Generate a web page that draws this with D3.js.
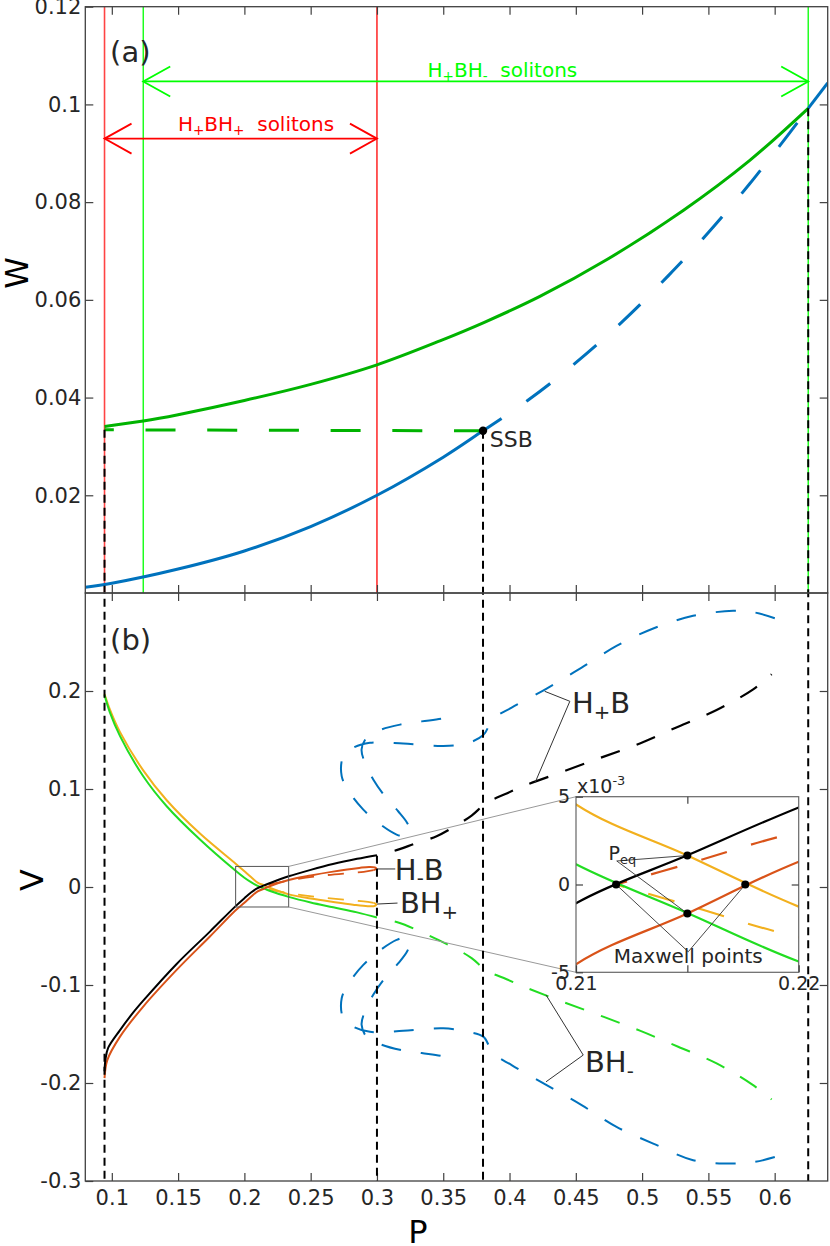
<!DOCTYPE html>
<html>
<head>
<meta charset="utf-8">
<script src="https://cdn.jsdelivr.net/npm/d3@7"></script>
<style>
body { margin: 0; background: #fff; }
svg { font-family: "DejaVu Sans", sans-serif; }
</style>
</head>
<body>
<script>
// Ticks
var pTicks = [0.1, 0.15, 0.2, 0.25, 0.3, 0.35, 0.4, 0.45, 0.5, 0.55, 0.6];
var wTicks = [0.02, 0.04, 0.06, 0.08, 0.1, 0.12];
var vTicks = [-0.3, -0.2, -0.1, 0, 0.1, 0.2];
var insetPTicks = [0.21, 0.215, 0.22];
var insetVTicks = [-0.005, 0, 0.005];

// Special pump values
var pStart = 0.0945;      // left edge of all soliton families
var pGreenLeft = 0.1237;  // H+BH- solitons begin
var pRedRight = 0.3;      // H+BH+ solitons end
var pSSB = 0.38;
var wSSB = 0.0332;
var pEnd = 0.6253;
var wEnd = 0.0992;

// (a) energy W(P)
var hStableP = [0.08, 0.1, 0.15, 0.2, 0.25, 0.3, 0.35, 0.38, 0.394];
var hStableW = [0.0012, 0.002, 0.0049, 0.0086, 0.0136, 0.020, 0.0278, 0.0332, 0.0357];
var hUnstableP = [0.394, 0.4136, 0.4317, 0.4498, 0.4674, 0.4845, 0.5013, 0.5189, 0.534, 0.55, 0.565, 0.581, 0.595, 0.61, 0.6253];
var hUnstableW = [0.0357, 0.0394, 0.0431, 0.0471, 0.0512, 0.0554, 0.0598, 0.0647, 0.069, 0.0738, 0.0785, 0.0837, 0.0885, 0.0937, 0.0992];
var hUpperP = [0.6253, 0.64];
var hUpperW = [0.0992, 0.1044];
var asymP = [0.0945, 0.1237, 0.15, 0.2, 0.25, 0.3, 0.3475, 0.381, 0.4229, 0.4732, 0.531, 0.581, 0.6253];
var asymW = [0.0341, 0.0352, 0.0365, 0.0394, 0.0427, 0.0467, 0.0516, 0.0554, 0.0607, 0.0682, 0.0783, 0.0885, 0.0992];
var asymUnstP = [0.0945, 0.38];
var asymUnstW = [0.0334, 0.0332];

// (b) V(P): H+B (black)
var hpbP = [0.0945, 0.0952, 0.0973, 0.1062, 0.1162, 0.1237, 0.1489, 0.174, 0.1934, 0.2, 0.205, 0.21, 0.215, 0.22, 0.2334, 0.25, 0.2668, 0.285, 0.3];
var hpbV = [-0.188, -0.176, -0.164, -0.146, -0.128, -0.116, -0.0785, -0.0455, -0.0195, -0.0114, -0.0056, -0.00107, 0.00166, 0.00439, 0.0109, 0.0175, 0.0235, 0.0288, 0.0325];
var hpbDashP = [0.3, 0.316, 0.3286, 0.345, 0.3588, 0.3714, 0.3827, 0.3978, 0.4103, 0.4418, 0.4706, 0.4983, 0.5272, 0.5562, 0.5838, 0.5977];
var hpbDashV = [0.0325, 0.0381, 0.0443, 0.0518, 0.062, 0.0729, 0.0859, 0.0954, 0.1029, 0.1185, 0.1328, 0.1465, 0.1636, 0.1806, 0.2017, 0.2171];
// H-B (red)
var hmbP = [0.0945, 0.0966, 0.1062, 0.1237, 0.1489, 0.174, 0.1934, 0.2, 0.205, 0.21, 0.215, 0.22, 0.2334, 0.25, 0.2668, 0.2866, 0.294, 0.2985, 0.2995, 0.2975];
var hmbV = [-0.195, -0.1766, -0.1527, -0.122, -0.0846, -0.0505, -0.0238, -0.016, -0.0099, -0.00454, -0.00165, 0.0013, 0.0072, 0.0118, 0.0157, 0.0195, 0.0205, 0.0200, 0.0186, 0.0172];
var hmbDashP = [0.2975, 0.29, 0.28, 0.26, 0.24, 0.22, 0.215, 0.2118];
var hmbDashV = [0.0172, 0.0155, 0.0143, 0.0118, 0.0082, 0.003, 0.00117, 0];
// BH+ (orange)
var bhpP = [0.0945, 0.0986, 0.1062, 0.1237, 0.1414, 0.1665, 0.1934, 0.2, 0.205, 0.21, 0.215, 0.22, 0.2334, 0.25, 0.267, 0.282, 0.293, 0.2985, 0.2995, 0.2975];
var bhpV = [0.197, 0.181, 0.158, 0.119, 0.0885, 0.0545, 0.0238, 0.016, 0.0101, 0.00456, 0.00165, -0.00126, -0.0075, -0.0118, -0.0153, -0.0181, -0.0196, -0.0192, -0.0177, -0.0162];
var bhpDashP = [0.2975, 0.29, 0.28, 0.26, 0.24, 0.22, 0.215, 0.2118];
var bhpDashV = [-0.0162, -0.0147, -0.0134, -0.011, -0.0077, -0.003, -0.00117, 0];
// BH- (green)
var bhmP = [0.0945, 0.0986, 0.1062, 0.1237, 0.1414, 0.1665, 0.1934, 0.2, 0.205, 0.21, 0.215, 0.22, 0.2334, 0.25, 0.267, 0.285, 0.3];
var bhmV = [0.196, 0.178, 0.154, 0.113, 0.0824, 0.0484, 0.0165, 0.0094, 0.0049, 0.00115, -0.00162, -0.00439, -0.0101, -0.0158, -0.0207, -0.0259, -0.0312];
var bhmDashP = [0.3, 0.316, 0.33, 0.345, 0.3588, 0.3714, 0.3827, 0.3978, 0.4116, 0.4418, 0.4706, 0.4983, 0.5272, 0.5562, 0.5826, 0.5977];
var bhmDashV = [-0.0312, -0.0362, -0.0437, -0.0532, -0.0624, -0.0726, -0.0853, -0.0941, -0.1022, -0.118, -0.1323, -0.1466, -0.163, -0.18, -0.2011, -0.2168];
// asymmetric loops (blue)
var hpbLoopP = [0.6001, 0.585, 0.5687, 0.5385, 0.5084, 0.4807, 0.4544, 0.428, 0.4016, 0.3877, 0.3802, 0.3676, 0.35, 0.3198, 0.2947, 0.2821, 0.2746, 0.2734, 0.2796, 0.2897, 0.301, 0.3148, 0.3211, 0.3249, 0.3228, 0.316, 0.306, 0.2972, 0.2909, 0.2884, 0.2922, 0.3035, 0.3186, 0.3337, 0.3488, 0.3601];
var hpbLoopV = [0.2743, 0.2801, 0.2818, 0.2767, 0.2638, 0.246, 0.2239, 0.2025, 0.183, 0.1718, 0.155, 0.1465, 0.1438, 0.1465, 0.1472, 0.1421, 0.1335, 0.1131, 0.0961, 0.079, 0.0654, 0.0535, 0.0517, 0.0569, 0.0654, 0.0773, 0.0926, 0.1097, 0.1268, 0.1404, 0.1523, 0.1608, 0.166, 0.169, 0.1718, 0.1752];
var bhmLoopP = [0.6001, 0.585, 0.5687, 0.5385, 0.5084, 0.4807, 0.4544, 0.428, 0.4016, 0.3877, 0.3802, 0.3676, 0.35, 0.3198, 0.2947, 0.2821, 0.2746, 0.2734, 0.2796, 0.2897, 0.301, 0.3148, 0.3211, 0.3249, 0.3228, 0.316, 0.306, 0.2972, 0.2909, 0.2884, 0.2922, 0.3035, 0.3186, 0.3337, 0.3488, 0.3601];
var bhmLoopV = [-0.2755, -0.2805, -0.2822, -0.2788, -0.2618, -0.2448, -0.2226, -0.2021, -0.1817, -0.1697, -0.1527, -0.1476, -0.1442, -0.1468, -0.1478, -0.1425, -0.134, -0.1135, -0.0965, -0.0795, -0.066, -0.054, -0.052, -0.057, -0.0655, -0.078, -0.093, -0.11, -0.127, -0.1405, -0.153, -0.161, -0.1665, -0.1695, -0.1725, -0.1766];

// Inset marked points
var peqP = [0.215, 0.215];
var peqV = [0.00165, -0.00165];
var maxwellP = [0.2118, 0.2176];
var maxwellV = [0, 0];

var BLUE = "#0072BD", GREEN_A = "#00b300", LIME = "#00ff00", RED = "#ff0000",
    ORANGE = "#F2B01E", BRICK = "#D95319", BGREEN = "#22dd22", AX = "#262626";

var svg = d3.select("body").append("svg")
    .attr("width", 830)
    .attr("height", 1246);

var x = d3.scaleLinear().domain([0.08, 0.64]).range([85.3, 827.7]);
var yTop = d3.scaleLinear().domain([0, 0.12]).range([593, 6.7]);
var yBot = d3.scaleLinear().domain([-0.3, 0.3]).range([1181, 593]);
var ix = d3.scaleLinear().domain([0.21, 0.22]).range([576, 798.7]);
var iy = d3.scaleLinear().domain([-0.005, 0.005]).range([972.3, 796.7]);

var defs = svg.append("defs");
function clip(id, sx, sy) {
    defs.append("clipPath").attr("id", id).append("rect")
        .attr("x", sx.range()[0]).attr("y", sy.range()[1])
        .attr("width", sx.range()[1] - sx.range()[0])
        .attr("height", sy.range()[0] - sy.range()[1]);
}
clip("clipTop", x, yTop);
clip("clipBot", x, yBot);
clip("clipInset", ix, iy);

function curve(g, xs, ys, sx, sy, color, width, dash, offset) {
    var line = d3.line()
        .x(function(d) { return sx(d[0]); })
        .y(function(d) { return sy(d[1]); })
        .curve(d3.curveCatmullRom.alpha(0.5));
    return g.append("path")
        .datum(d3.zip(xs, ys))
        .attr("d", line)
        .attr("fill", "none")
        .attr("stroke", color)
        .attr("stroke-width", width)
        .attr("stroke-linejoin", "round")
        .attr("stroke-dasharray", dash || null)
        .attr("stroke-dashoffset", offset || null);
}

function seg(g, x1, y1, x2, y2, color, width, dash) {
    return g.append("line")
        .attr("x1", x1).attr("y1", y1).attr("x2", x2).attr("y2", y2)
        .attr("stroke", color).attr("stroke-width", width)
        .attr("stroke-dasharray", dash || null);
}

// text with sub / superscripts
function richText(g, px, py, parts, size, color, anchor) {
    var t = g.append("text")
        .attr("x", px).attr("y", py)
        .attr("font-size", size)
        .attr("fill", color)
        .attr("text-anchor", anchor || "start")
        .style("white-space", "pre");
    var shift = 0;
    parts.forEach(function(p) {
        var off = p[1] === "sub" ? size * 0.2 : (p[1] === "sup" ? -size * 0.42 : 0);
        t.append("tspan")
            .attr("dy", off - shift)
            .attr("font-size", p[1] ? size * 0.68 : size)
            .text(p[0]);
        shift = off;
    });
    return t;
}

function fmt(d) { return String(d); }

function styleAxis(g, size) {
    g.attr("font-size", size).attr("font-family", null).attr("color", AX);
    g.select(".domain").remove();
    g.selectAll(".tick line").attr("stroke", "#404040").attr("stroke-width", 1.2);
}

// ---------- panel (a) ----------
var panelA = svg.append("g");
var plotA = panelA.append("g").attr("clip-path", "url(#clipTop)");

// soliton existence bounds
seg(plotA, x(pStart), yTop(0), x(pStart), yTop(0.12), "#ff4444", 1.6);
seg(plotA, x(pRedRight), yTop(0), x(pRedRight), yTop(0.12), RED, 1.3);
seg(plotA, x(pGreenLeft), yTop(0), x(pGreenLeft), yTop(0.12), LIME, 1.3);
seg(plotA, x(pEnd), yTop(0), x(pEnd), yTop(0.12), LIME, 1.3);

curve(plotA, hStableP, hStableW, x, yTop, BLUE, 3);
curve(plotA, hUnstableP, hUnstableW, x, yTop, BLUE, 3, "30,30", 30);
curve(plotA, hUpperP, hUpperW, x, yTop, BLUE, 3);
curve(plotA, asymUnstP, asymUnstW, x, yTop, GREEN_A, 3, "30,31.7", 20.7);
curve(plotA, asymP, asymW, x, yTop, GREEN_A, 3);

// arrows
function arrow(g, p0, p1, w, color) {
    var y0 = yTop(w), xa = x(p0), xb = x(p1);
    seg(g, xa, y0, xb, y0, color, 1.8);
    g.append("path").attr("d", "M" + (xa + 27) + "," + (y0 - 15) + "L" + xa + "," + y0 + "L" + (xa + 27) + "," + (y0 + 15))
        .attr("fill", "none").attr("stroke", color).attr("stroke-width", 1.8);
    g.append("path").attr("d", "M" + (xb - 27) + "," + (y0 - 15) + "L" + xb + "," + y0 + "L" + (xb - 27) + "," + (y0 + 15))
        .attr("fill", "none").attr("stroke", color).attr("stroke-width", 1.8);
}
arrow(panelA, pStart, pRedRight, 0.093, RED);
arrow(panelA, pGreenLeft, pEnd, 0.1047, LIME);

richText(panelA, x(0.2088), yTop(0.0946), [["H"], ["+", "sub"], ["BH"], ["+", "sub"], ["  solitons"]], 20, RED, "middle");
richText(panelA, x(0.3946), yTop(0.1056), [["H"], ["+", "sub"], ["BH"], ["-", "sub"], ["  solitons"]], 20, LIME, "middle");
richText(panelA, x(0.0987), yTop(0.1087), [["(a)"]], 29, AX);

// axes of (a)
panelA.append("g").attr("transform", "translate(" + x.range()[0] + ",0)")
    .call(d3.axisLeft(yTop).tickValues(wTicks).tickSize(-8).tickPadding(4).tickFormat(fmt))
    .call(styleAxis, 21);
panelA.append("g").attr("transform", "translate(" + x.range()[1] + ",0)")
    .call(d3.axisRight(yTop).tickValues(wTicks.slice(0, 5)).tickSize(-8).tickFormat(""))
    .call(styleAxis, 21);
panelA.append("g").attr("transform", "translate(0," + yTop.range()[1] + ")")
    .call(d3.axisTop(x).tickValues(pTicks).tickSize(-8).tickFormat(""))
    .call(styleAxis, 21);
panelA.append("g").attr("transform", "translate(0," + yTop.range()[0] + ")")
    .call(d3.axisBottom(x).tickValues(pTicks).tickSize(-8).tickFormat(""))
    .call(styleAxis, 21);

// ---------- panel (b) ----------
var panelB = svg.append("g");
var plotB = panelB.append("g").attr("clip-path", "url(#clipBot)");

curve(plotB, hpbLoopP, hpbLoopV, x, yBot, BLUE, 2, "20,20");
curve(plotB, bhmLoopP, bhmLoopV, x, yBot, BLUE, 2, "20,20");
curve(plotB, hpbDashP, hpbDashV, x, yBot, "#000", 2.2, "20,18", 20);
curve(plotB, bhmDashP, bhmDashV, x, yBot, BGREEN, 2, "20,18", 20);
curve(plotB, hmbDashP, hmbDashV, x, yBot, BRICK, 1.8, "16,14");
curve(plotB, bhpDashP, bhpDashV, x, yBot, ORANGE, 1.8, "16,14");
curve(plotB, bhpP, bhpV, x, yBot, ORANGE, 2);
curve(plotB, bhmP, bhmV, x, yBot, BGREEN, 2);
curve(plotB, hmbP, hmbV, x, yBot, BRICK, 2);
curve(plotB, hpbP, hpbV, x, yBot, "#000", 2);

// black dashed guides through both panels
seg(svg, x(pStart), yTop(asymUnstW[0]), x(pStart), yBot(-0.3), "#000", 2, "8,5");
seg(svg, x(pSSB), yTop(wSSB), x(pSSB), yBot(-0.3), "#000", 2, "8,5");
seg(svg, x(pEnd), yTop(wEnd), x(pEnd), yBot(-0.3), "#000", 2, "8,5");
seg(svg, x(pRedRight), yBot(0.032), x(pRedRight), yBot(-0.3), "#000", 2, "8,5");

// SSB point
svg.append("circle").attr("cx", x(pSSB)).attr("cy", yTop(wSSB)).attr("r", 4.2).attr("fill", "#000");
richText(svg, x(0.3851), yTop(0.0299), [["SSB"]], 22, AX);

// zoom rectangle and connectors
var r0 = [0.1934, 0.2334], rv = [-0.0204, 0.021];
panelB.append("rect")
    .attr("x", x(r0[0])).attr("y", yBot(rv[1]))
    .attr("width", x(r0[1]) - x(r0[0])).attr("height", yBot(rv[0]) - yBot(rv[1]))
    .attr("fill", "none").attr("stroke", "#555").attr("stroke-width", 1);
seg(panelB, x(r0[1]), yBot(rv[1]), ix.range()[0], iy.range()[1], "#999", 1);
seg(panelB, x(r0[1]), yBot(rv[0]), ix.range()[0], iy.range()[0], "#999", 1);

// branch labels with pointer lines
var lbl = panelB.append("g");
seg(lbl, x(0.4455), yBot(0.1895), x(0.4265), yBot(0.1997), "#333", 1);
seg(lbl, x(0.4455), yBot(0.1895), x(0.4192), yBot(0.1063), "#333", 1);
richText(lbl, x(0.4471), yBot(0.1772), [["H"], ["+", "sub"], ["B"]], 29, AX);
seg(lbl, x(0.3), yBot(0.0184), x(0.3138), yBot(0.0184), "#333", 1);
richText(lbl, x(0.3135), yBot(0.0075), [["H"], ["-", "sub"], ["B"]], 29, AX);
seg(lbl, x(0.3), yBot(-0.0174), x(0.3155), yBot(-0.0164), "#333", 1);
richText(lbl, x(0.3173), yBot(-0.0266), [["BH"], ["+", "sub"]], 29, AX);
seg(lbl, x(0.4556), yBot(-0.1715), x(0.4275), yBot(-0.1101), "#333", 1);
seg(lbl, x(0.4556), yBot(-0.1715), x(0.4275), yBot(-0.1988), "#333", 1);
richText(lbl, x(0.4569), yBot(-0.1885), [["BH"], ["-", "sub"]], 29, AX);
richText(panelB, x(0.0987), yBot(0.2416), [["(b)"]], 29, AX);

// axes of (b)
panelB.append("g").attr("transform", "translate(" + x.range()[0] + ",0)")
    .call(d3.axisLeft(yBot).tickValues(vTicks).tickSize(-8).tickPadding(4).tickFormat(fmt))
    .call(styleAxis, 21);
panelB.append("g").attr("transform", "translate(" + x.range()[1] + ",0)")
    .call(d3.axisRight(yBot).tickValues(vTicks.slice(1)).tickSize(-8).tickFormat(""))
    .call(styleAxis, 21);
panelB.append("g").attr("transform", "translate(0," + yBot.range()[1] + ")")
    .call(d3.axisTop(x).tickValues(pTicks).tickSize(-8).tickFormat(""))
    .call(styleAxis, 21);
panelB.append("g").attr("transform", "translate(0," + yBot.range()[0] + ")")
    .call(d3.axisBottom(x).tickValues(pTicks).tickSize(-8).tickPadding(9).tickFormat(fmt))
    .call(styleAxis, 21);

// ---------- inset ----------
var inset = svg.append("g");
inset.append("rect")
    .attr("x", ix.range()[0]).attr("y", iy.range()[1])
    .attr("width", ix.range()[1] - ix.range()[0]).attr("height", iy.range()[0] - iy.range()[1])
    .attr("fill", "#fff");
var insetPlot = inset.append("g").attr("clip-path", "url(#clipInset)");
curve(insetPlot, hmbDashP, hmbDashV, ix, iy, BRICK, 2.2, "27,25");
curve(insetPlot, bhpDashP, bhpDashV, ix, iy, ORANGE, 2.2, "27,25");
curve(insetPlot, bhpP, bhpV, ix, iy, ORANGE, 2.2);
curve(insetPlot, hmbP, hmbV, ix, iy, BRICK, 2.2);
curve(insetPlot, bhmP, bhmV, ix, iy, BGREEN, 2.2);
curve(insetPlot, hpbP, hpbV, ix, iy, "#000", 2.2);

// pointer lines for P_eq and Maxwell points
var peqAnchor = [0.21183, 0.00134], mxAnchor = [0.21504, -0.00383];
peqP.forEach(function(p, i) {
    seg(inset, ix(peqAnchor[0]), iy(peqAnchor[1]), ix(p), iy(peqV[i]), "#333", 0.9);
});
maxwellP.forEach(function(p, i) {
    seg(inset, ix(mxAnchor[0]), iy(mxAnchor[1]), ix(p), iy(maxwellV[i]), "#333", 0.9);
});
inset.selectAll("circle.pt")
    .data(d3.zip(peqP.concat(maxwellP), peqV.concat(maxwellV)))
    .enter().append("circle")
    .attr("class", "pt")
    .attr("cx", function(d) { return ix(d[0]); })
    .attr("cy", function(d) { return iy(d[1]); })
    .attr("r", 4)
    .attr("fill", "#000");

inset.append("rect")
    .attr("x", ix.range()[0]).attr("y", iy.range()[1])
    .attr("width", ix.range()[1] - ix.range()[0]).attr("height", iy.range()[0] - iy.range()[1])
    .attr("fill", "none").attr("stroke", "#666").attr("stroke-width", 1.2);

inset.append("g").attr("transform", "translate(" + ix.range()[0] + ",0)")
    .call(d3.axisLeft(iy).tickValues(insetVTicks).tickSize(-7).tickPadding(6)
        .tickFormat(function(d) { return String(Math.round(d * 1000)); }))
    .call(styleAxis, 19);
inset.append("g").attr("transform", "translate(" + ix.range()[1] + ",0)")
    .call(d3.axisRight(iy).tickValues([0]).tickSize(-7).tickFormat(""))
    .call(styleAxis, 19);
inset.append("g").attr("transform", "translate(0," + iy.range()[1] + ")")
    .call(d3.axisTop(ix).tickValues([0.215]).tickSize(-7).tickFormat(""))
    .call(styleAxis, 19);
inset.append("g").attr("transform", "translate(0," + iy.range()[0] + ")")
    .call(d3.axisBottom(ix).tickValues(insetPTicks).tickSize(-7).tickPadding(4)
        .tickFormat(function(d) { return d === 0.215 ? "" : String(d); }))
    .call(styleAxis, 19);

richText(inset, ix.range()[0] + 1, iy.range()[1] - 4, [["x10"], ["-3", "sup"]], 19, AX);
richText(inset, ix(0.21146), iy(0.00138), [["P"], ["eq", "sub"]], 19, AX);
richText(inset, ix(0.21504), iy(-0.00446), [["Maxwell points"]], 20, AX, "middle");

// axis titles
svg.append("text").attr("transform", "translate(28,273) rotate(-90)")
    .attr("text-anchor", "middle").attr("font-size", 32).attr("fill", "#000").text("W");
svg.append("text").attr("transform", "translate(43,880) rotate(-90)")
    .attr("text-anchor", "middle").attr("font-size", 32).attr("fill", "#000").text("V");
svg.append("text").attr("x", 418).attr("y", 1243)
    .attr("text-anchor", "middle").attr("font-size", 32).attr("fill", "#000").text("P");

// panel frames
[yTop, yBot].forEach(function(sy) {
    svg.append("rect")
        .attr("x", x.range()[0]).attr("y", sy.range()[1])
        .attr("width", x.range()[1] - x.range()[0]).attr("height", sy.range()[0] - sy.range()[1])
        .attr("fill", "none").attr("stroke", "#404040").attr("stroke-width", 1.3);
});
</script>
</body>
</html>
